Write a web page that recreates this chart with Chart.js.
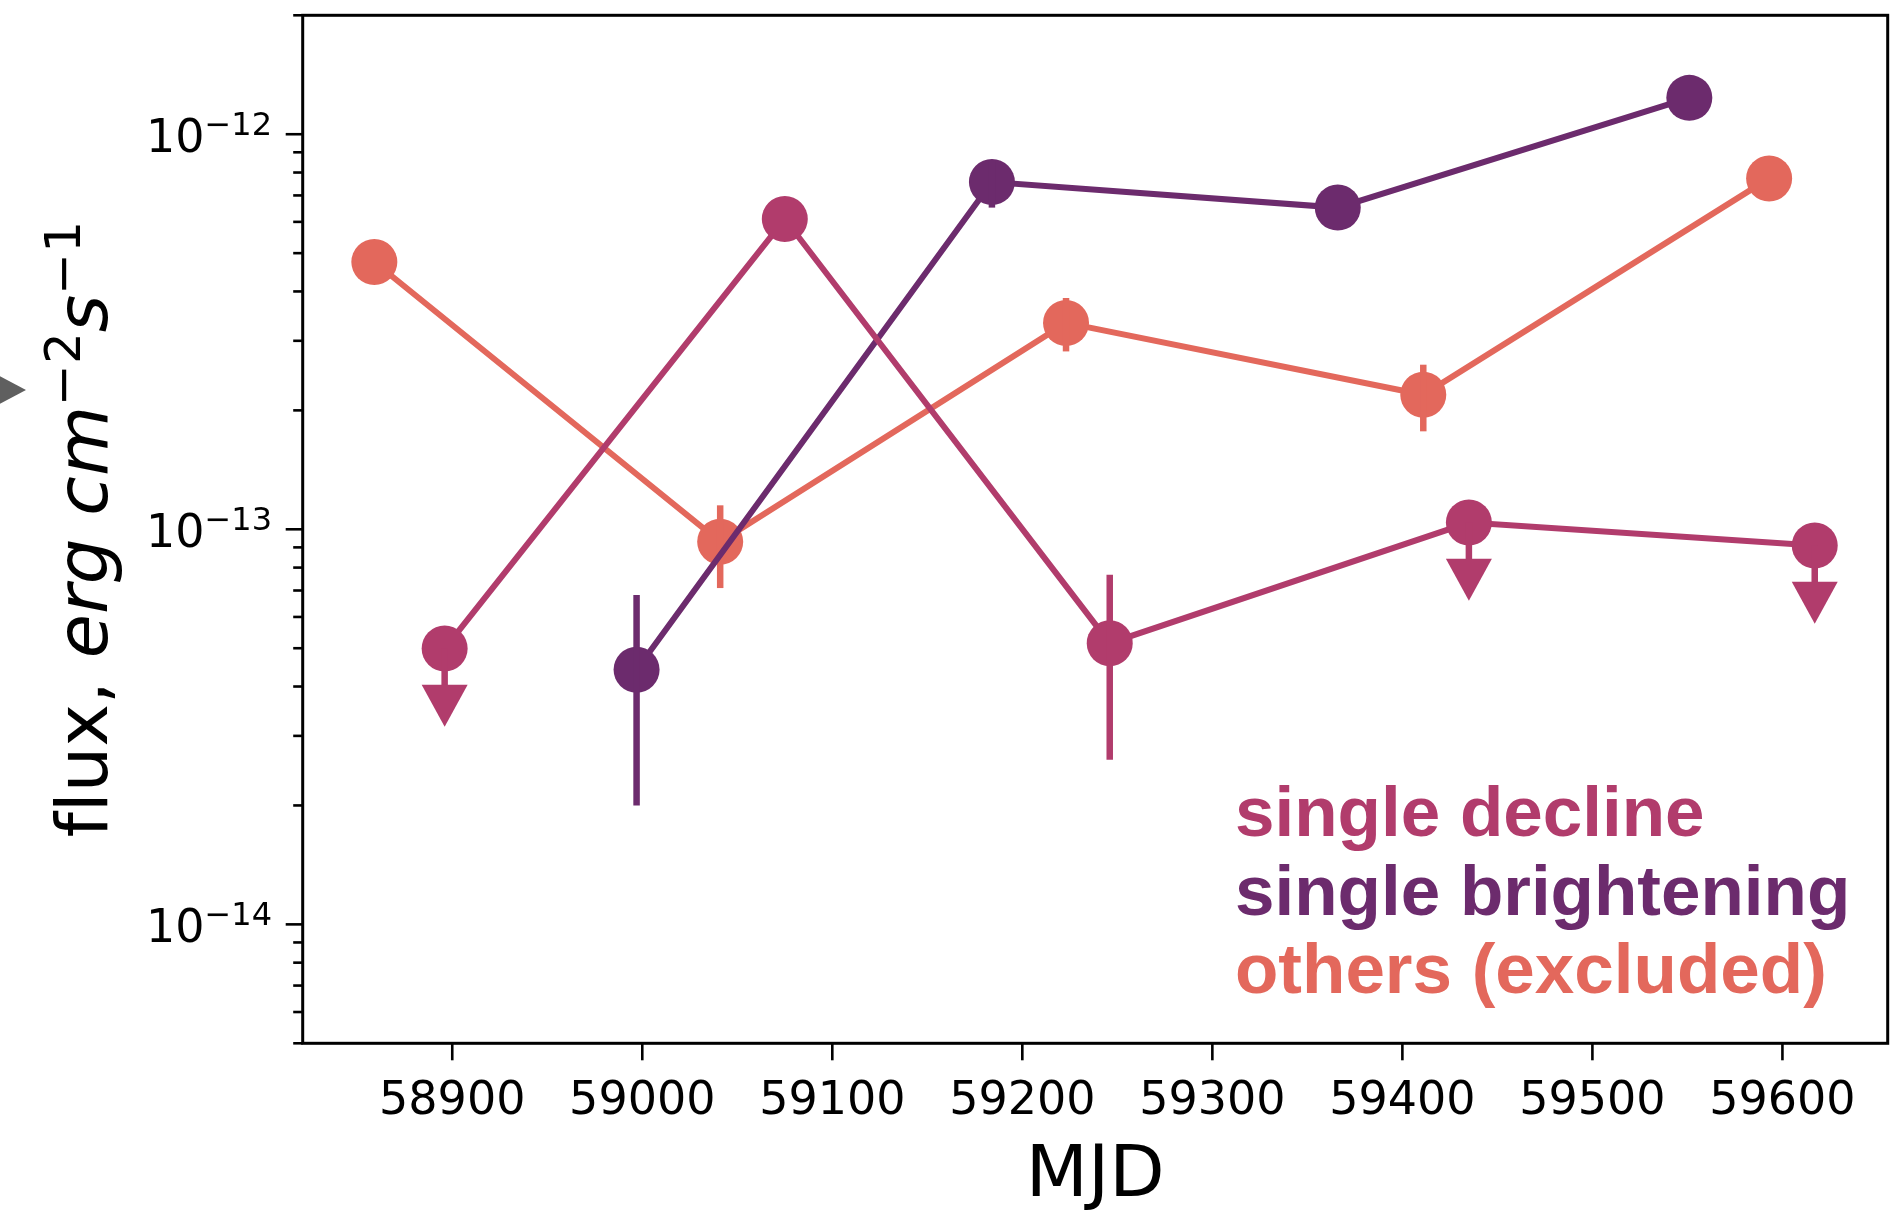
<!DOCTYPE html>
<html>
<head>
<meta charset="utf-8">
<script src="https://cdn.jsdelivr.net/npm/chart.js@4.4.1/dist/chart.umd.min.js"></script>
<style>
  html, body { margin: 0; padding: 0; background: #ffffff; }
  #wrap { width: 1896px; height: 1211px; position: relative; }
  canvas { display: block; }
</style>
</head>
<body>
<div id="wrap"><canvas id="c" width="1896" height="1211"></canvas></div>
<script>
// ---------------- data ----------------
const seriesNames = ['single decline', 'single brightening', 'others (excluded)'];
const seriesColors = ['#b13c6c', '#6c2b6d', '#e3685c'];

const declineMJD   = [58896, 59075, 59246, 59435, 59617];
const declineFlux  = [4.99e-14, 6.1e-13, 5.15e-14, 1.04e-13, 9.1e-14];
const declineErrLo = [null, null, 2.61e-14, null, null];
const declineErrHi = [null, null, 7.67e-14, null, null];
const declineUL    = [true, false, false, true, true];

const brightMJD   = [58997, 59184, 59366, 59551];
const brightFlux  = [4.41e-14, 7.57e-13, 6.52e-13, 1.236e-12];
const brightErrLo = [2.0e-14, 6.52e-13, null, null];
const brightErrHi = [6.82e-14, 8.6e-13, null, null];
const brightUL    = [false, false, false, false];

const otherMJD   = [58859, 59041, 59223, 59411, 59593];
const otherFlux  = [4.75e-13, 9.3e-14, 3.33e-13, 2.19e-13, 7.73e-13];
const otherErrLo = [null, 7.1e-14, 2.82e-13, 1.77e-13, null];
const otherErrHi = [null, 1.15e-13, 3.85e-13, 2.61e-13, null];
const otherUL    = [false, false, false, false, false];

const xTicks = [58900, 59000, 59100, 59200, 59300, 59400, 59500, 59600];
const yMajorTicks = [1e-14, 1e-13, 1e-12];
const yTickBase = '10';
const yTickExp = ['\u221214', '\u221213', '\u221212'];
const xLimits = [58821.3, 59655.4];
const yLimits = [5e-15, 2e-12];
const xTitle = 'MJD';

// ---------------- build ----------------
function pts(xs, ys) { return xs.map((x, i) => ({ x: x, y: ys[i] })); }

function makeDataset(i, xs, ys, lo, hi, ul) {
  return {
    label: seriesNames[i],
    data: pts(xs, ys),
    errLo: lo, errHi: hi, ul: ul,
    showLine: true,
    borderColor: seriesColors[i],
    backgroundColor: seriesColors[i],
    borderWidth: 6,
    pointRadius: 23,
    pointHoverRadius: 23,
    pointBorderWidth: 0,
    pointBackgroundColor: seriesColors[i],
    pointBorderColor: seriesColors[i],
    tension: 0,
    clip: false
  };
}

const FONT = '"DejaVu Sans", sans-serif';
const AREA = { left: 302.7, top: 15.3, right: 1887.7, bottom: 1043.3 };

const overlay = {
  id: 'overlay',
  afterDatasetDraw(chart, args) {
    const ds = chart.data.datasets[args.index];
    const meta = args.meta;
    const ctx = chart.ctx;
    const ys = chart.scales.y;
    const color = ds.borderColor;
    ctx.save();
    ctx.strokeStyle = color;
    ctx.fillStyle = color;
    ctx.lineWidth = 6.5;
    ctx.lineCap = 'butt';
    ds.data.forEach((p, j) => {
      const el = meta.data[j];
      const px = el.x, py = el.y;
      if (ds.errLo && ds.errLo[j] != null) {
        const y1 = ys.getPixelForValue(ds.errLo[j]);
        const y2 = ys.getPixelForValue(ds.errHi[j]);
        ctx.beginPath();
        ctx.moveTo(px, y1); ctx.lineTo(px, y2); ctx.stroke();
      }
      if (ds.ul && ds.ul[j]) {
        const yb = ys.getPixelForValue(p.y * 0.81);
        ctx.beginPath();
        ctx.moveTo(px, py); ctx.lineTo(px, yb + 2); ctx.stroke();
        ctx.beginPath();
        ctx.moveTo(px - 23, yb);
        ctx.lineTo(px + 23, yb);
        ctx.lineTo(px, yb + 42);
        ctx.closePath();
        ctx.fill();
      }
    });
    ctx.restore();
  },
  afterDraw(chart) {
    const ctx = chart.ctx;
    const xs = chart.scales.x, ys = chart.scales.y;
    const L = xs.getPixelForValue(xLimits[0]);
    const R = xs.getPixelForValue(xLimits[1]);
    const T = ys.getPixelForValue(yLimits[1]);
    const B = ys.getPixelForValue(yLimits[0]);
    ctx.save();
    // frame
    ctx.strokeStyle = '#000';
    ctx.lineWidth = 3;
    ctx.strokeRect(L, T, R - L, B - T);
    // x ticks
    ctx.lineWidth = 2.6;
    ctx.fillStyle = '#000';
    ctx.font = '46px ' + FONT;
    ctx.textAlign = 'center';
    ctx.textBaseline = 'alphabetic';
    xTicks.forEach(v => {
      const x = xs.getPixelForValue(v);
      ctx.beginPath(); ctx.moveTo(x, B); ctx.lineTo(x, B + 17); ctx.stroke();
      ctx.fillText(String(v), x, 1114);
    });
    // y minor ticks
    for (let e = -15; e <= -12; e++) {
      for (let m = 2; m <= 9; m++) {
        const v = m * Math.pow(10, e);
        if (v < yLimits[0] * 0.999 || v > yLimits[1] * 1.001) continue;
        const y = ys.getPixelForValue(v);
        ctx.beginPath(); ctx.moveTo(L, y); ctx.lineTo(L - 9.5, y); ctx.stroke();
      }
    }
    // y major ticks & labels
    yMajorTicks.forEach((v, i) => {
      const y = ys.getPixelForValue(v);
      ctx.beginPath(); ctx.moveTo(L, y); ctx.lineTo(L - 17, y); ctx.stroke();
      ctx.font = '46px ' + FONT;
      const wBase = ctx.measureText(yTickBase).width;
      ctx.font = '32px ' + FONT;
      const wExp = ctx.measureText(yTickExp[i]).width;
      const right = 272;
      const start = right - wBase - wExp;
      ctx.textAlign = 'left';
      ctx.font = '46px ' + FONT;
      ctx.fillText(yTickBase, start, y + 18);
      ctx.font = '32px ' + FONT;
      ctx.fillText(yTickExp[i], start + wBase, y + 1);
    });
    // x title
    ctx.font = '72px ' + FONT;
    ctx.textAlign = 'center';
    ctx.fillText(xTitle, (L + R) / 2, 1196);
    // y title (rotated); "f" drawn apart so no fl ligature forms
    const parts = [
      { t: 'f', f: '72px ' + FONT, dy: 0 },
      { t: 'lux, ', f: '72px ' + FONT, dy: 0 },
      { t: 'erg cm', f: 'italic 72px ' + FONT, dy: 0 },
      { t: '\u22122', f: '50px ' + FONT, dy: -27 },
      { t: 's', f: 'italic 72px ' + FONT, dy: 0 },
      { t: '\u22121', f: '50px ' + FONT, dy: -27 }
    ];
    let total = 0;
    parts.forEach(p => { ctx.font = p.f; p.w = ctx.measureText(p.t).width; total += p.w; });
    ctx.translate(107, (T + B) / 2);
    ctx.rotate(-Math.PI / 2);
    ctx.textAlign = 'left';
    let cx = -total / 2;
    parts.forEach(p => { ctx.font = p.f; ctx.fillText(p.t, cx, p.dy); cx += p.w; });
    ctx.setTransform(1, 0, 0, 1, 0, 0);
    // legend text
    ctx.font = 'bold 71px "Liberation Sans", Arial, sans-serif';
    ctx.textAlign = 'left';
    const baselines = [836, 915, 993];
    seriesNames.forEach((n, i) => {
      ctx.fillStyle = seriesColors[i];
      ctx.fillText(n, 1235, baselines[i]);
    });
    // clipped gray marker at left edge
    ctx.fillStyle = '#5f5f5f';
    ctx.beginPath();
    ctx.moveTo(26, 390); ctx.lineTo(-8, 372); ctx.lineTo(-8, 408); ctx.closePath();
    ctx.fill();
    ctx.restore();
  }
};

const chart = new Chart(document.getElementById('c'), {
  type: 'scatter',
  data: {
    datasets: [
      makeDataset(0, declineMJD, declineFlux, declineErrLo, declineErrHi, declineUL),
      makeDataset(1, brightMJD, brightFlux, brightErrLo, brightErrHi, brightUL),
      makeDataset(2, otherMJD, otherFlux, otherErrLo, otherErrHi, otherUL)
    ]
  },
  options: {
    responsive: false,
    animation: false,
    devicePixelRatio: 1,
    layout: {
      autoPadding: false,
      padding: { left: AREA.left, top: AREA.top, right: 1896 - AREA.right, bottom: 1211 - AREA.bottom }
    },
    plugins: { legend: { display: false }, tooltip: { enabled: false } },
    events: [],
    scales: {
      x: { type: 'linear', display: false, min: xLimits[0], max: xLimits[1] },
      y: { type: 'logarithmic', display: false, min: yLimits[0], max: yLimits[1] }
    }
  },
  plugins: [overlay]
});
</script>
</body>
</html>
